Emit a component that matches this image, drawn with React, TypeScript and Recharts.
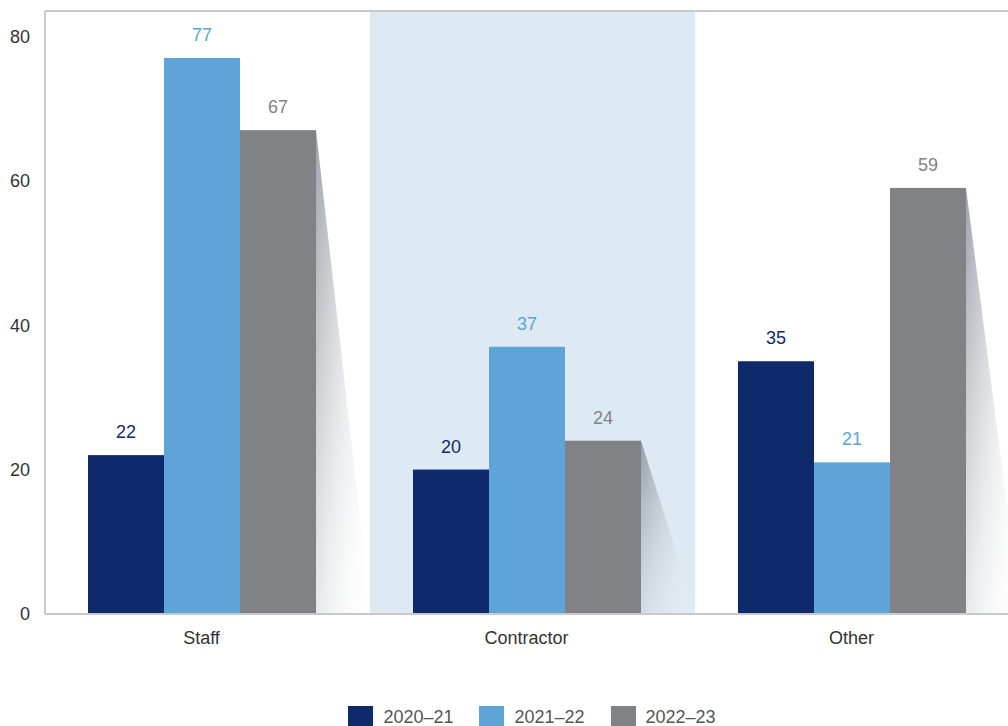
import { BarChart, Bar, XAxis, YAxis, Legend, ReferenceArea, ReferenceLine, LabelList } from 'recharts';

const categories = ['Staff', 'Contractor', 'Other'];
const fy2021 = [22, 20, 35];
const fy2122 = [77, 37, 21];
const fy2223 = [67, 24, 59];
const yTicks = [0, 20, 40, 60, 80];

const SERIES = [
  { key: 'fy2021', name: '2020–21', color: '#0e2a6a' },
  { key: 'fy2122', name: '2021–22', color: '#5ca5d6' },
  { key: 'fy2223', name: '2022–23', color: '#818286' },
];

const data = categories.map((c, i) => ({
  name: c,
  fy2021: fy2021[i],
  fy2122: fy2122[i],
  fy2223: fy2223[i],
}));

// bars sit a little left of the category centre in the original
const SHIFT = -6;
const FONT = '"Liberation Sans", Arial, sans-serif';
const AXIS = '#c9c9c9';

const PlainBar = (props: any) => {
  const { x, y, width, height, fill } = props;
  return <rect x={x + SHIFT} y={y} width={width} height={height} fill={fill} />;
};

const ShadowBar = (props: any) => {
  const { x, y, width, height, fill } = props;
  const r = x + SHIFT + width;
  return (
    <g>
      <polygon points={`${r},${y} ${r + 55},${y + height} ${r},${y + height}`} fill="url(#shadowGrad)" />
      <rect x={x + SHIFT} y={y} width={width} height={height} fill={fill} />
    </g>
  );
};

const makeLabel = (color: string) => (props: any) => {
  const { x, y, width, value } = props;
  return (
    <text x={x + SHIFT + width / 2} y={y - 17} textAnchor="middle" fill={color} fontSize={18} fontFamily={FONT}>
      {value}
    </text>
  );
};

const XTick = (props: any) => {
  const { x, y, payload } = props;
  return (
    <text x={x + SHIFT} y={y + 22} textAnchor="middle" fill="#333" fontSize={18} fontFamily={FONT}>
      {payload.value}
    </text>
  );
};

const BandShape = (props: any) => {
  const { x, y, width, height } = props;
  return <rect x={x} y={y} width={width} height={height} fill="#ddeaf4" />;
};

const LegendContent = () => (
  <div
    style={{
      display: 'flex',
      justifyContent: 'center',
      transform: 'translateX(35px)',
      fontFamily: FONT,
      fontSize: 18,
      color: '#555',
    }}
  >
    {SERIES.map((s) => (
      <div key={s.key} style={{ display: 'flex', alignItems: 'center', marginRight: 26 }}>
        <span style={{ width: 25, height: 22, background: s.color, display: 'inline-block', marginRight: 10 }} />
        <span>{s.name}</span>
      </div>
    ))}
  </div>
);

export default function App() {
  return (
    <div style={{ position: 'absolute', left: 0, top: 0, width: 1008, height: 726, overflow: 'hidden', background: '#fff' }}>
      <BarChart
        width={1020}
        height={726}
        data={data}
        margin={{ top: 11, right: 0, bottom: 0, left: 0 }}
        barCategoryGap={49}
        barGap={0}
      >
        <defs>
          <linearGradient id="shadowGrad" x1="0" y1="0" x2="1" y2="1">
            <stop offset="0%" stopColor="#7c8590" stopOpacity={0.75} />
            <stop offset="100%" stopColor="#ffffff" stopOpacity={0} />
          </linearGradient>
        </defs>
        <ReferenceArea x1="Contractor" x2="Contractor" shape={BandShape} ifOverflow="visible" />
        <XAxis dataKey="name" height={90} axisLine={{ stroke: AXIS, strokeWidth: 2 }} tickLine={false} tick={XTick} />
        <YAxis
          width={45}
          domain={[0, 83.5]}
          ticks={yTicks}
          axisLine={{ stroke: AXIS, strokeWidth: 2 }}
          tickLine={false}
          tick={{ fill: '#333', fontSize: 18, fontFamily: FONT }}
          tickMargin={9}
        />
        <ReferenceLine y={83.5} stroke={AXIS} strokeWidth={2} />
        <Bar dataKey="fy2021" name="2020–21" fill={SERIES[0].color} shape={PlainBar} isAnimationActive={false}>
          <LabelList dataKey="fy2021" content={makeLabel(SERIES[0].color)} />
        </Bar>
        <Bar dataKey="fy2122" name="2021–22" fill={SERIES[1].color} shape={PlainBar} isAnimationActive={false}>
          <LabelList dataKey="fy2122" content={makeLabel(SERIES[1].color)} />
        </Bar>
        <Bar dataKey="fy2223" name="2022–23" fill={SERIES[2].color} shape={ShadowBar} isAnimationActive={false}>
          <LabelList dataKey="fy2223" content={makeLabel(SERIES[2].color)} />
        </Bar>
        <Legend verticalAlign="bottom" content={LegendContent} wrapperStyle={{ bottom: -2 }} />
      </BarChart>
    </div>
  );
}
